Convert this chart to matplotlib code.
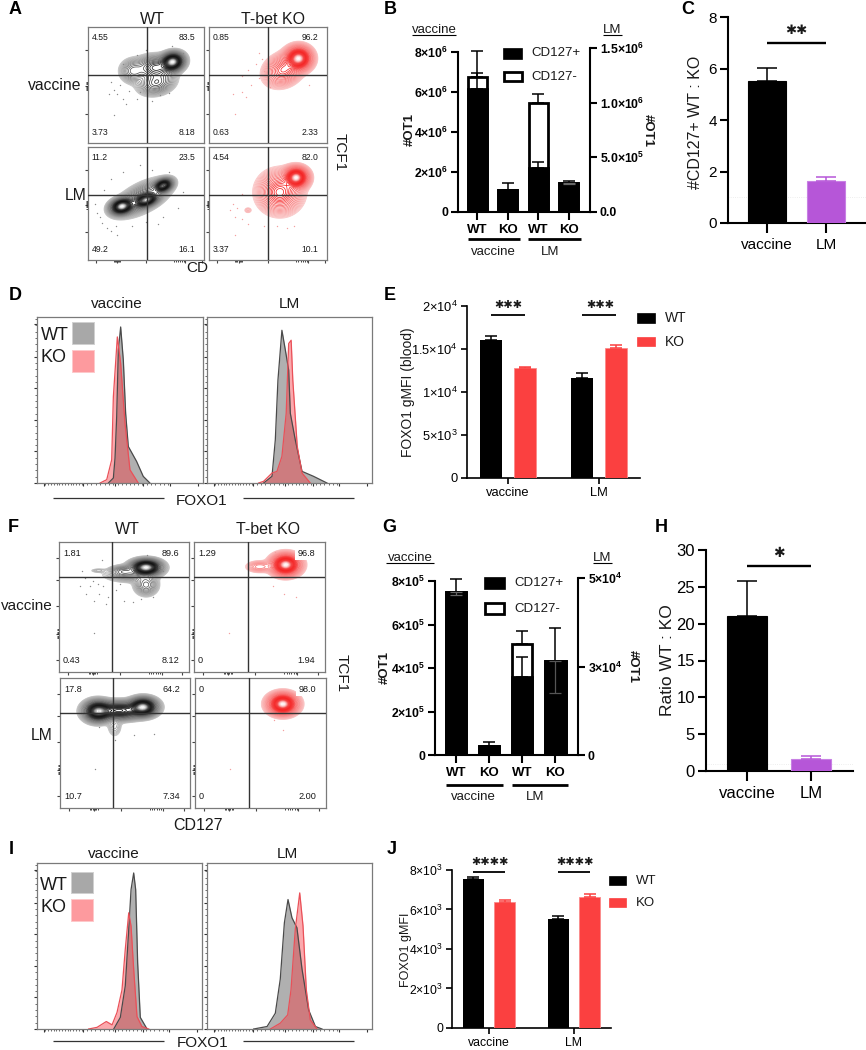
"""Multi-panel flow cytometry and bar chart figure (A-J)."""
import numpy as np
import matplotlib
matplotlib.use("Agg")
import matplotlib.pyplot as plt
from matplotlib.colors import LinearSegmentedColormap
from matplotlib.lines import Line2D
from matplotlib.patches import Rectangle

plt.rcParams["font.family"] = ["Liberation Sans", "DejaVu Sans"]
plt.rcParams["mathtext.fontset"] = "custom"
plt.rcParams["mathtext.rm"] = "Liberation Sans"
plt.rcParams["mathtext.bf"] = "Liberation Sans:bold"
plt.rcParams["mathtext.default"] = "regular"

W, H = 866, 1050
TXT = "#1a1a1a"
RED = "#fb4040"
PURPLE = "#b656d8"

# ── Panel B ───────────────────────────────────────────────────
b_labels = ["WT", "KO", "WT", "KO"]
b_total_vac = [6.72e6, 1.08e6]
b_plus_vac = [6.12e6, 1.08e6]
b_err_vac = [8.05e6, 1.42e6]
b_plus_err_vac = [6.95e6, 1.08e6]
b_total_lm = [0.995e6, 0.266e6]
b_plus_lm = [0.398e6, 0.266e6]
b_err_lm = [1.08e6, 0.282e6]
b_plus_err_lm = [0.453e6, 0.266e6]
b_low_lm = [0.25e6]
b_left_ticks = [0, 2e6, 4e6, 6e6, 8e6]
b_left_labels = ["0", "2×10$^{\\mathbf{6}}$", "4×10$^{\\mathbf{6}}$", "6×10$^{\\mathbf{6}}$", "8×10$^{\\mathbf{6}}$"]
b_right_ticks = [0, 5e5, 1e6, 1.5e6]
b_right_labels = ["0.0", "5.0×10$^{\\mathbf{5}}$", "1.0×10$^{\\mathbf{6}}$", "1.5×10$^{\\mathbf{6}}$"]

# ── Panel C / H ───────────────────────────────────────────────
ratio_groups = ["vaccine", "LM"]
c_values = [5.5, 1.65]
c_err = [6.03, 1.77]
h_values = [21.0, 1.6]
h_err = [25.8, 2.05]

# ── Panel E / J ───────────────────────────────────────────────
e_wt = [1.605e4, 1.167e4]
e_ko = [1.275e4, 1.508e4]
e_wt_err = [1.655e4, 1.225e4]
e_ko_err = [1.287e4, 1.547e4]
e_ticks = [0, 5e3, 1e4, 1.5e4, 2e4]
e_labels = ["0", "5×10$^{3}$", "1×10$^{4}$", "1.5×10$^{4}$", "2×10$^{4}$"]
j_wt = [7.54e3, 5.50e3]
j_ko = [6.36e3, 6.65e3]
j_wt_err = [7.66e3, 5.69e3]
j_ko_err = [6.48e3, 6.78e3]
j_ticks = [0, 2e3, 4e3, 6e3, 8e3]
j_labels = ["0", "2×10$^{3}$", "4×10$^{3}$", "6×10$^{3}$", "8×10$^{3}$"]

# ── Panel G ───────────────────────────────────────────────────
g_total_vac = [7.51e5, 0.43e5]
g_plus_vac = [7.51e5, 0.43e5]
g_err_vac = [8.08e5, 0.58e5]
g_low_vac = [7.34e5]
g_total_lm = [3.14e4, 2.66e4]
g_plus_lm = [2.19e4, 2.66e4]
g_err_lm = [3.49e4, 3.6e4]
g_plus_err_lm = [2.78e4, 2.66e4]
g_low_lm = [1.76e4]
g_left_ticks = [0, 2e5, 4e5, 6e5, 8e5]
g_left_labels = ["0", "2×10$^{\\mathbf{5}}$", "4×10$^{\\mathbf{5}}$", "6×10$^{\\mathbf{5}}$", "8×10$^{\\mathbf{5}}$"]
g_right_ticks = [0, 2.5e4, 5e4]
g_right_labels = ["0", "3×10$^{\\mathbf{4}}$", "5×10$^{\\mathbf{4}}$"]

# ── Histograms (position, height as fraction of the box) ──────
d_vac_wt = [(.43, 0), (.46, .03), (.47, .15), (.48, .40), (.49, .80), (.504, .94), (.52, .74), (.534, .42), (.55, .22), (.60, .13), (.64, .04), (.68, 0)]
d_vac_ko = [(.38, 0), (.42, .02), (.45, .14), (.46, .52), (.484, .88), (.504, .72), (.53, .36), (.56, .08), (.61, 0)]
d_lm_wt = [(.343, 0), (.394, .04), (.414, .26), (.43, .62), (.454, .92), (.475, .80), (.495, .68), (.505, .42), (.535, .26), (.576, .07), (.646, .04), (.727, 0)]
d_lm_ko = [(.313, 0), (.343, .01), (.394, .06), (.424, .07), (.454, .16), (.48, .42), (.495, .84), (.51, .86), (.52, .62), (.547, .22), (.576, .06), (.626, 0)]
i_vac_wt = [(.465, 0), (.505, .07), (.535, .26), (.556, .60), (.57, .84), (.586, .94), (.598, .84), (.61, .40), (.626, .07), (.667, 0)]
i_vac_ko = [(.313, 0), (.364, .01), (.42, .045), (.455, .025), (.485, .10), (.515, .235), (.535, .48), (.556, .70), (.57, .62), (.586, .36), (.606, .075), (.636, .015), (.677, 0)]
i_lm_wt = [(.283, 0), (.364, .015), (.414, .095), (.444, .30), (.469, .64), (.491, .78), (.515, .67), (.545, .61), (.576, .36), (.616, .115), (.657, .015), (.697, 0)]
i_lm_ko = [(.384, 0), (.444, .035), (.489, .085), (.509, .235), (.535, .60), (.562, .82), (.582, .62), (.602, .235), (.626, .055), (.667, 0)]

# ── Flow plots: density peaks ─────────────────────────────────
# (centre x, centre y, sd x, sd y, weight, correlation)
a_wt_vac = [(.73, .70, .05, .04, 1, .1), (.39, .62, .055, .05, .2, 0), (.59, .52, .075, .05, .3, .2), (.58, .65, .08, .05, .4, 0)]
a_ko_vac = [(.76, .73, .055, .05, 1, 0), (.63, .63, .075, .065, .4, .2)]
a_wt_lm = [(.29, .474, .05, .035, 1, .2), (.65, .66, .04, .03, .8, .3), (.505, .53, .05, .03, .7, .4), (.47, .55, .11, .075, .35, .6)]
a_ko_lm = [(.74, .73, .05, .045, 1, 0), (.6, .6, .085, .085, .5, 0), (.33, .44, .02, .016, .03, 0)]
f_wt_vac = [(.67, .805, .06, .03, 1, 0), (.49, .775, .05, .022, .15, 0), (.67, .67, .045, .04, .2, 0), (.55, .75, .1, .03, .12, 0), (.3, .78, .035, .009, .03, 0)]
f_ko_vac = [(.70, .825, .055, .04, 1, 0), (.50, .81, .05, .022, .12, 0)]
f_wt_lm = [(.64, .777, .055, .035, 1, 0), (.29, .745, .055, .04, .9, 0), (.46, .75, .09, .035, .65, 0), (.42, .63, .03, .045, .05, 0)]
f_ko_lm = [(.67, .80, .055, .04, 1, 0)]

a_wt_vac_dots = [(.22, .46), (.25, .42), (.18, .42), (.3, .38), (.33, .34), (.22, .24), (.28, .5), (.35, .45), (.42, .38), (.55, .36), (.62, .41), (.7, .43), (.45, .44), (.78, .62), (.82, .78), (.72, .84), (.5, .8), (.42, .76), (.3, .68), (.2, .53)]
a_ko_vac_dots = [(.42, .78), (.45, .72), (.4, .68), (.33, .63), (.28, .58), (.2, .42), (.28, .44), (.31, .4), (.22, .25), (.36, .5), (.42, .56), (.52, .48), (.58, .52), (.47, .62), (.85, .5)]
a_wt_lm_dots = [(.12, .33), (.16, .28), (.2, .26), (.25, .22), (.08, .42), (.06, .5), (.14, .62), (.2, .72), (.3, .78), (.45, .84), (.55, .8), (.7, .78), (.82, .6), (.78, .46), (.65, .38), (.5, .34), (.38, .3), (.1, .38), (.24, .3), (.6, .32)]
a_ko_lm_dots = [(.2, .5), (.24, .46), (.28, .36), (.22, .38), (.33, .32), (.18, .44), (.28, .58), (.22, .22), (.47, .3), (.58, .3), (.66, .28), (.72, .3)]
f_wt_vac_dots = [(.2, .72), (.24, .66), (.21, .6), (.27, .55), (.31, .6), (.34, .66), (.38, .58), (.44, .63), (.5, .55), (.57, .54), (.63, .56), (.72, .58), (.27, .3), (.18, .78), (.33, .86), (.68, .9), (.8, .78), (.16, .66), (.3, .68), (.47, .68), (.26, .7), (.36, .52)]
f_ko_vac_dots = [(.27, .3), (.6, .66), (.69, .6), (.78, .58), (.62, .92)]
f_wt_lm_dots = [(.27, .3), (.72, .57), (.57, .56), (.42, .52), (.3, .62)]
f_ko_lm_dots = [(.27, .3), (.67, .6), (.6, .68)]

a_quadrants = [["4.55", "83.5", "3.73", "8.18"], ["0.85", "96.2", "0.63", "2.33"],
               ["11.2", "23.5", "49.2", "16.1"], ["4.54", "82.0", "3.37", "10.1"]]
f_quadrants = [["1.81", "89.6", "0.43", "8.12"], ["1.29", "96.8", "0", "1.94"],
               ["17.8", "64.2", "10.7", "7.34"], ["0", "98.0", "0", "2.00"]]

GRAY_CMAP = LinearSegmentedColormap.from_list("wt", ["#c4c4c4", "#a0a0a0", "#6a6a6a", "#242424", "#0c0c0c", "#3a3a3a", "#f0f0f0"])
RED_CMAP = LinearSegmentedColormap.from_list("ko", ["#fac4c4", "#f9a0a0", "#f87070", "#f63030", "#f41c1c", "#f43c3c", "#ffefef"])

fig = plt.figure(figsize=(W / 100, H / 100), dpi=100)


def axes_px(x0, y0, x1, y1):
    return fig.add_axes([x0 / W, 1 - y1 / H, (x1 - x0) / W, (y1 - y0) / H])


def text_px(x, y, s, **kw):
    kw.setdefault("ha", "center")
    kw.setdefault("va", "center")
    kw.setdefault("color", TXT)
    fig.text(x / W, 1 - y / H, s, **kw)


def line_px(x0, y0, x1, y1, lw=1.5, color="black"):
    fig.add_artist(Line2D([x0 / W, x1 / W], [1 - y0 / H, 1 - y1 / H], lw=lw, color=color, solid_capstyle="butt"))


def rect_px(x0, y0, x1, y1, **kw):
    fig.add_artist(Rectangle((x0 / W, 1 - y1 / H), (x1 - x0) / W, (y1 - y0) / H, transform=fig.transFigure, **kw))


def style_prism(ax, fs=9):
    for s in ["top", "right"]:
        ax.spines[s].set_visible(False)
    for s in ["left", "bottom"]:
        ax.spines[s].set_linewidth(1.5)
    ax.tick_params(width=1.5, length=5, labelsize=fs, pad=2, colors="black")


def errs(ax, x, tops, bases, color="black", lw=1.1, cap=4.2):
    ax.errorbar(x, bases, yerr=[np.zeros(len(tops)), np.array(tops) - np.array(bases)],
                fmt="none", ecolor=color, elinewidth=lw, capsize=cap, capthick=lw, zorder=5)


def flow_plot(box, peaks, dots, vline, hline, quadrants, cmap, dot_color, show_x, patch_label=False, yticks=(), xticks=(), qfs=6.2):
    ax = axes_px(*box)
    ax.set_xlim(0, 1)
    ax.set_ylim(0, 1)
    xx, yy = np.meshgrid(np.linspace(0, 1, 300), np.linspace(0, 1, 300))
    z = np.zeros_like(xx)
    for cx, cy, sx, sy, w, rho in peaks:
        u, v = (xx - cx) / sx, (yy - cy) / sy
        z += w * np.exp(-(u * u - 2 * rho * u * v + v * v) / (2 * (1 - rho * rho)))
    z /= z.max()
    levels = np.concatenate([np.geomspace(0.012, 0.15, 13), np.linspace(0.18, 0.985, 22)])
    colors = [cmap(i / (len(levels) - 1)) for i in range(len(levels))]
    ax.contour(xx, yy, z, levels=levels, colors=colors, linewidths=0.55, zorder=2)
    ax.scatter([d[0] for d in dots], [d[1] for d in dots], s=1.0, color=dot_color, lw=0, zorder=2)
    ax.axvline(vline, color="#333333", lw=1.0, zorder=3)
    ax.axhline(hline, color="#333333", lw=1.0, zorder=3)

    bbox = dict(facecolor="white", edgecolor="none", pad=1.5) if patch_label else None
    qs = dict(fontsize=qfs, color=TXT, va="center", transform=ax.transAxes, zorder=4)
    ax.text(.03, .91, quadrants[0], ha="left", **qs)
    ax.text(.925, .91, quadrants[1], ha="right", bbox=bbox, **qs)
    ax.text(.03, .09, quadrants[2], ha="left", **qs)
    ax.text(.925, .09, quadrants[3], ha="right", **qs)

    for s in ax.spines.values():
        s.set_color("#7a7a7a")
        s.set_linewidth(0.9)
    ax.set_yticks(list(yticks))
    ax.set_yticks(np.concatenate([np.linspace(t - .035, t + .035, 8) for t in yticks[1:2]]), minor=True)
    ax.tick_params(axis="y", which="major", length=2, width=0.8, color="#444444", labelleft=False)
    ax.tick_params(axis="y", which="minor", length=1.5, width=0.6, color="#222222")
    if show_x:
        ax.set_xticks(list(xticks))
        ax.set_xticks(np.concatenate([np.linspace(xticks[1] - .03, xticks[1] + .03, 7),
                                      np.linspace(xticks[-2] - .1, xticks[-2] - .01, 6)]), minor=True)
        ax.tick_params(axis="x", which="major", length=2, width=0.8, color="#444444", labelbottom=False)
        ax.tick_params(axis="x", which="minor", length=1.5, width=0.6, color="#222222")
    else:
        ax.set_xticks([])
    return ax


def hist_plot(box, wt, ko):
    ax = axes_px(*box)
    ax.set_xlim(0, 1)
    ax.set_ylim(0, 1)
    for curve, fill, edge, alpha in [(wt, "#6f6f6f", "#4a4a4a", 0.55), (ko, "#f7343c", "#ea5058", 0.42)]:
        xs = [p[0] for p in curve]
        ys = [p[1] for p in curve]
        ax.fill_between(xs, ys, 0, color=fill, alpha=alpha, lw=0)
        ax.plot(xs, ys, color=edge, lw=0.9, solid_joinstyle="round")
    for s in ax.spines.values():
        s.set_color("#7a7a7a")
        s.set_linewidth(0.9)
    ax.set_yticks([0, .19, .38, .57, .76, .96])
    ax.set_yticks(np.arange(0, 1, .038), minor=True)
    ax.set_xticks([.04, .28, .47, .64, .8, .97])
    ax.set_xticks(np.concatenate([np.linspace(.05, .27, 14), np.linspace(.3, .46, 7), np.linspace(.49, .63, 7), np.linspace(.66, .79, 6)]), minor=True)
    ax.tick_params(which="major", length=2.5, width=0.8, color="#333333", labelbottom=False, labelleft=False)
    ax.tick_params(which="minor", length=1.3, width=0.5, color="#333333")
    return ax


def hist_legend(x_text, x0, x1, wt_y, ko_y):
    text_px(x_text, wt_y[0], "WT", fontsize=13, ha="left")
    rect_px(x0, wt_y[1], x1, wt_y[2], facecolor="#a8a8a8", edgecolor="#d0d0d0", lw=0.7)
    text_px(x_text, ko_y[0], "KO", fontsize=13, ha="left")
    rect_px(x0, ko_y[1], x1, ko_y[2], facecolor="#fd9a9e", edgecolor="#fdc8ca", lw=0.7)


def stacked_panel(box, left_top, right_top, centre0, spacing, width,
                  tot_vac, plus_vac, err_vac, tot_lm, plus_lm, err_lm,
                  left_ticks, left_labels, right_ticks, right_labels):
    ax = axes_px(*box)
    ax.set_xlim((box[0] - centre0) / spacing, (box[2] - centre0) / spacing)
    ax.set_ylim(0, left_top)
    ax2 = ax.twinx()
    ax2.set_xlim(ax.get_xlim())
    ax2.set_ylim(0, right_top)
    for a, xs, tot, plus, err in [(ax, [0, 1], tot_vac, plus_vac, err_vac), (ax2, [2, 3], tot_lm, plus_lm, err_lm)]:
        a.bar(xs, tot, width=width, facecolor="white", edgecolor="black", lw=2, zorder=2)
        a.bar(xs, plus, width=width, facecolor="black", edgecolor="black", lw=2, zorder=3)
        errs(a, xs, err, tot)
    for s in ["top", "right"]:
        ax.spines[s].set_visible(False)
    for s in ["top", "left"]:
        ax2.spines[s].set_visible(False)
    ax.spines["left"].set_linewidth(1.5)
    ax.spines["bottom"].set_linewidth(1.5)
    ax2.spines["right"].set_linewidth(1.5)
    ax2.spines["bottom"].set_visible(False)
    ax.spines["left"].set_bounds(0, left_ticks[-1])
    ax2.spines["right"].set_bounds(0, right_ticks[-1])
    ax.set_yticks(left_ticks)
    ax.set_yticklabels(left_labels, fontweight="bold", fontsize=8.8)
    ax2.set_yticks(right_ticks)
    ax2.set_yticklabels(right_labels, fontweight="bold", fontsize=8.8)
    ax.set_xticks([0, 1, 2, 3])
    ax.set_xticklabels(b_labels, fontweight="bold", fontsize=9.5)
    ax.tick_params(axis="both", width=1.5, length=5, pad=2)
    ax.tick_params(axis="x", length=6, pad=3)
    ax2.tick_params(axis="y", width=1.5, length=5, pad=2)
    return ax, ax2


def ratio_panel(box, values, err, tick_vals, top, ymax_tick, centre_px, spacing, width, sig_y, fs, cap):
    ax = axes_px(*box)
    ax.set_xlim((box[0] - centre_px) / spacing, (box[2] - centre_px) / spacing)
    ax.set_ylim(0, top)
    ax.bar([0, 1], values, width=width, color=["black", PURPLE], edgecolor=["black", "#c880e4"], lw=0.8, zorder=3)
    ax.axhline(1, color="#e8e8e8", lw=0.6, ls=":", zorder=1)
    errs(ax, [0], [err[0]], [values[0]], cap=cap)
    errs(ax, [1], [err[1]], [values[1]], color=PURPLE, cap=cap)
    ax.plot([0, 1], [sig_y, sig_y], color="black", lw=1.7, solid_capstyle="butt")
    ax.set_xticks([0, 1])
    ax.set_xticklabels(ratio_groups)
    ax.set_yticks(tick_vals)
    style_prism(ax, fs=fs)
    ax.tick_params(axis="x", length=7, pad=4)
    ax.tick_params(axis="y", length=6)
    ax.spines["left"].set_bounds(0, ymax_tick)
    ax.patch.set_alpha(0)
    return ax


def grouped_panel(box, wt, ko, wt_err, ko_err, ticks, labels, top, centre_px, spacing, width, d, sig_y, fs):
    ax = axes_px(*box)
    ax.set_xlim((box[0] - centre_px) / spacing, (box[2] - centre_px) / spacing)
    ax.set_ylim(0, top)
    x = np.arange(2)
    ax.bar(x - d, wt, width=width, color="black", zorder=3)
    ax.bar(x + d, ko, width=width, color=RED, edgecolor="#fa8a8a", lw=0.6, zorder=3)
    errs(ax, x - d, wt_err, wt, cap=4)
    errs(ax, x + d, ko_err, ko, color=RED, cap=4)
    for g in x:
        ax.plot([g - d, g + d], [sig_y, sig_y], color="black", lw=1.3, solid_capstyle="butt")
    ax.set_xticks(x)
    ax.set_xticklabels(ratio_groups)
    ax.set_yticks(ticks)
    ax.set_yticklabels(labels)
    style_prism(ax, fs=fs)
    ax.tick_params(axis="both", length=4.5, width=1.2)
    ax.spines["left"].set_bounds(0, ticks[-1])
    ax.spines["left"].set_linewidth(1.2)
    ax.spines["bottom"].set_linewidth(1.2)
    ax.patch.set_alpha(0)
    return ax


def legend_row(x0, x1, y0, y1, x_text, label, fs, filled=True, color="black"):
    if filled:
        rect_px(x0, y0, x1, y1, facecolor=color, edgecolor=color, lw=0.5)
    else:
        rect_px(x0, y0, x1, y1, facecolor="white", edgecolor="black", lw=2)
    text_px(x_text, (y0 + y1) / 2, label, fontsize=fs, ha="left")


# ── A ─────────────────────────────────────────────────────────
ay = (.8, .49, .25)
ax_t = (.07, .25, .5, .84, .98)
flow_plot((88, 27, 204, 143), a_wt_vac, a_wt_vac_dots, .505, .59, a_quadrants[0], GRAY_CMAP, "#8a8a8a", False, yticks=ay)
flow_plot((209, 27, 327, 143), a_ko_vac, a_ko_vac_dots, .497, .59, a_quadrants[1], RED_CMAP, "#f4a0a0", False, yticks=ay)
flow_plot((88, 147, 204, 260), a_wt_lm, a_wt_lm_dots, .505, .575, a_quadrants[2], GRAY_CMAP, "#8a8a8a", True, yticks=ay, xticks=ax_t)
flow_plot((209, 147, 327, 260), a_ko_lm, a_ko_lm_dots, .497, .575, a_quadrants[3], RED_CMAP, "#f4a0a0", True, yticks=ay, xticks=ax_t)
text_px(152, 19, "WT", fontsize=11.5)
text_px(273, 19, "T-bet KO", fontsize=11.5)
text_px(81, 85, "vaccine", fontsize=11.3, ha="right")
text_px(87, 196, "LM", fontsize=11.3, ha="right")
text_px(340, 152, "TCF1", fontsize=11, rotation=-90)
text_px(197, 268, "CD", fontsize=11)

# ── B ─────────────────────────────────────────────────────────
bx, bx2 = stacked_panel((458, 48, 590, 211.7), 8.185e6, 1.5e6, 477.3, 30.5, .62,
                        b_total_vac, b_plus_vac, b_err_vac, b_total_lm, b_plus_lm, b_err_lm,
                        b_left_ticks, b_left_labels, b_right_ticks, b_right_labels)
errs(bx, [0], [b_plus_err_vac[0]], [b_plus_vac[0]])
errs(bx2, [2], [b_plus_err_lm[0]], [b_plus_lm[0]])
errs(bx2, [3], [b_plus_lm[1]], b_low_lm, color="#666666", lw=0.9)
line_px(468, 239, 520, 239, lw=2)
line_px(528, 239, 581, 239, lw=2)
text_px(493, 252, "vaccine", fontsize=9.5)
text_px(550, 252, "LM", fontsize=9.5)
text_px(434, 30, "vaccine", fontsize=9.5)
line_px(412, 35, 456, 35, lw=0.8)
text_px(612, 30, "LM", fontsize=9.5)
line_px(603, 35, 622, 35, lw=0.8)
text_px(410, 130, "#OT1", fontsize=9.5, fontweight="bold", rotation=90)
text_px(648, 130, "#OT1", fontsize=9.5, fontweight="bold", rotation=-90)
legend_row(503, 522, 47.5, 59, 531, "CD127+", 9.5)
legend_row(504, 522, 72, 81, 531, "CD127-", 9.5, filled=False)

# ── C ─────────────────────────────────────────────────────────
ratio_panel((728, 15, 866, 223), c_values, c_err, [0, 2, 4, 6, 8], 8.08, 8, 767, 59, .66, 7.0, 11, cap=7)
text_px(695, 122, "#CD127+ WT : KO", fontsize=11.5, rotation=90)
text_px(796, 30, "✱✱", fontsize=9.5, family=["DejaVu Sans"])

# ── D ─────────────────────────────────────────────────────────
hist_plot((37, 317, 203, 483), d_vac_wt, d_vac_ko)
hist_plot((207, 317, 372, 483), d_lm_wt, d_lm_ko)
text_px(117, 304, "vaccine", fontsize=11)
text_px(289, 304, "LM", fontsize=11)
hist_legend(41, 72, 94, (335, 322, 344), (357, 350, 372))
text_px(202, 501, "FOXO1", fontsize=11)
line_px(53, 498, 164, 498, lw=0.9, color="#333333")
line_px(243, 498, 354, 498, lw=0.9, color="#333333")

# ── E ─────────────────────────────────────────────────────────
grouped_panel((467, 300, 640, 478), e_wt, e_ko, e_wt_err, e_ko_err, e_ticks, e_labels, 2.07e4, 508, 91, .25, .187, 1.895e4, 9.3)
text_px(408, 392, "FOXO1 gMFI (blood)", fontsize=10, rotation=90)
text_px(508, 305, "✱✱✱", fontsize=8, family=["DejaVu Sans"])
text_px(600, 305, "✱✱✱", fontsize=8, family=["DejaVu Sans"])
legend_row(637, 655, 313, 323, 665, "WT", 10)
legend_row(637, 655, 337, 346, 665, "KO", 10, color=RED)

# ── F ─────────────────────────────────────────────────────────
fyc = (.877, .295, .505, .705, .09)
fx_t = (.07, .26, .467, .79, .95)
flow_plot((59, 542, 189, 672), f_wt_vac, f_wt_vac_dots, .41, .73, f_quadrants[0], GRAY_CMAP, "#8a8a8a", True, yticks=fyc, xticks=fx_t, qfs=6.6)
flow_plot((194, 542, 325, 672), f_ko_vac, f_ko_vac_dots, .413, .73, f_quadrants[1], RED_CMAP, "#f4a0a0", True, patch_label=True, yticks=fyc, xticks=fx_t, qfs=6.6)
flow_plot((60, 678, 190, 808), f_wt_lm, f_wt_lm_dots, .41, .733, f_quadrants[2], GRAY_CMAP, "#8a8a8a", True, yticks=fyc, xticks=fx_t, qfs=6.6)
flow_plot((195, 678, 326, 808), f_ko_lm, f_ko_lm_dots, .413, .733, f_quadrants[3], RED_CMAP, "#f4a0a0", True, patch_label=True, yticks=fyc, xticks=fx_t, qfs=6.6)
text_px(127, 530, "WT", fontsize=11.5)
text_px(268, 530, "T-bet KO", fontsize=11.5)
text_px(53, 606, "vaccine", fontsize=11, ha="right")
text_px(53, 735, "LM", fontsize=11.3, ha="right")
text_px(342, 673, "TCF1", fontsize=11, rotation=-90)
text_px(198, 825, "CD127", fontsize=11.5)

# ── G ─────────────────────────────────────────────────────────
gx, gx2 = stacked_panel((435, 575, 578, 755), 8e5 * (755 - 575) / (755 - 581), 5e4 * (755 - 575) / (755 - 578), 456, 33.1, .62,
                        g_total_vac, g_plus_vac, g_err_vac, g_total_lm, g_plus_lm, g_err_lm,
                        g_left_ticks, g_left_labels, g_right_ticks, g_right_labels)
errs(gx2, [2], [g_plus_err_lm[0]], [g_plus_lm[0]])
errs(gx, [0], [g_plus_vac[0]], g_low_vac, color="#666666", lw=0.9)
errs(gx2, [3], [g_plus_lm[1]], g_low_lm, color="#555555", lw=0.9)
line_px(446, 785, 503, 785, lw=2)
line_px(512, 785, 568, 785, lw=2)
text_px(473, 797, "vaccine", fontsize=9.5)
text_px(535, 797, "LM", fontsize=9.5)
text_px(410, 558, "vaccine", fontsize=9.5)
line_px(386, 563, 434, 563, lw=0.8)
text_px(602, 558, "LM", fontsize=9.5)
line_px(593, 563, 612, 563, lw=0.8)
text_px(385, 667, "#OT1", fontsize=9.5, fontweight="bold", rotation=90)
text_px(633, 667, "#OT1", fontsize=9.5, fontweight="bold", rotation=-90)
legend_row(484, 505, 577, 589, 514, "CD127+", 9.5)
legend_row(485, 504, 603, 614, 514, "CD127-", 9.5, filled=False)

# ── H ─────────────────────────────────────────────────────────
ratio_panel((706, 548, 853, 771), h_values, h_err, [0, 5, 10, 15, 20, 25, 30], 30 * (771 - 548) / (771 - 550), 30, 747, 64, .64, 27.8, 12, cap=7.5)
text_px(667, 660, "Ratio WT : KO", fontsize=12.5, rotation=90)
text_px(779, 553, "✱", fontsize=10, family=["DejaVu Sans"])

# ── I ─────────────────────────────────────────────────────────
hist_plot((37, 863, 202, 1029), i_vac_wt, i_vac_ko)
hist_plot((207, 863, 372, 1029), i_lm_wt, i_lm_ko)
text_px(114, 854, "vaccine", fontsize=11)
text_px(287, 854, "LM", fontsize=11)
hist_legend(40, 71, 93, (885, 872, 893), (907, 899, 921))
text_px(203, 1043, "FOXO1", fontsize=11)
line_px(53, 1041, 164, 1041, lw=0.9, color="#333333")
line_px(243, 1041, 354, 1041, lw=0.9, color="#333333")

# ── J ─────────────────────────────────────────────────────────
grouped_panel((452, 865, 611, 1028), j_wt, j_ko, j_wt_err, j_ko_err, j_ticks, j_labels, 8.25e3, 489, 85, .253, .183, 7.91e3, 8.8)
text_px(406, 950, "FOXO1 gMFI", fontsize=9, rotation=90)
text_px(490, 862, "✱✱✱✱", fontsize=8, family=["DejaVu Sans"])
text_px(575, 862, "✱✱✱✱", fontsize=8, family=["DejaVu Sans"])
legend_row(609, 626, 876, 885, 636, "WT", 9.5)
legend_row(609, 626, 898, 907, 636, "KO", 9.5, color=RED)

# ── Panel letters ─────────────────────────────────────────────
panel_letters = ["A", "B", "C", "D", "E", "F", "G", "H", "I", "J"]
letter_x = [15, 390, 688, 15, 390, 13, 389, 661, 11, 392]
letter_y = [9, 9, 9, 296, 296, 527, 527, 527, 850, 849]
for s, x, y in zip(panel_letters, letter_x, letter_y):
    text_px(x, y, s, fontsize=13, fontweight="bold", color="black")

fig.savefig("out.png", dpi=100)
